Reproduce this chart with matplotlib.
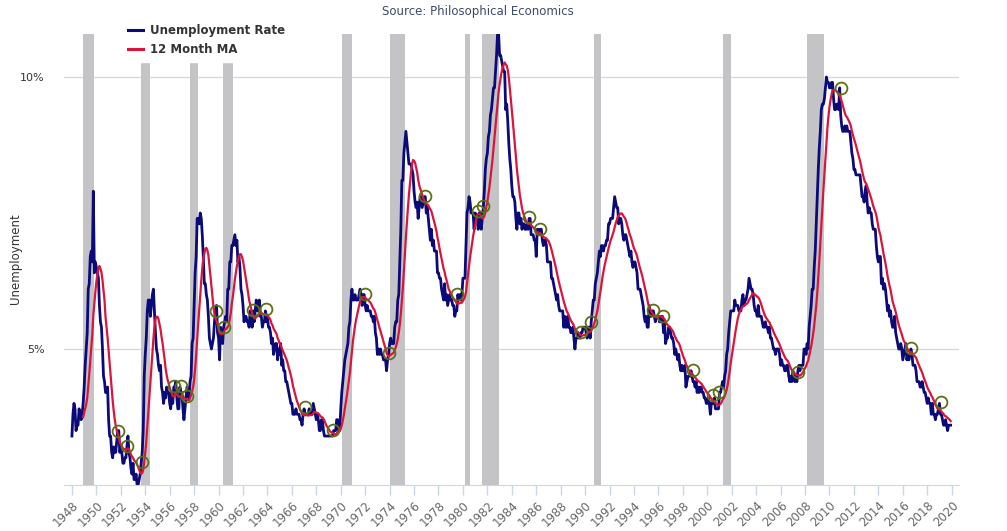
import numpy as np
import pandas as pd
import matplotlib
matplotlib.use('Agg')
import matplotlib.pyplot as plt
from matplotlib.lines import Line2D

# Monthly unemployment rate (%), Jan 1948 onwards
unrate_1940s = [
    3.4, 3.8, 4.0, 3.9, 3.5, 3.6, 3.6, 3.9, 3.8, 3.7, 3.8, 4.0,
    4.3, 4.7, 5.0, 5.3, 6.1, 6.2, 6.7, 6.8, 6.6, 7.9, 6.4, 6.6,
]
unrate_1950s = [
    6.5, 6.4, 6.3, 5.8, 5.5, 5.4, 5.0, 4.5, 4.4, 4.2, 4.2, 4.3,
    3.7, 3.4, 3.4, 3.1, 3.0, 3.2, 3.1, 3.1, 3.3, 3.5, 3.5, 3.1,
    3.2, 3.1, 2.9, 2.9, 3.0, 3.0, 3.2, 3.4, 3.1, 3.0, 2.8, 2.7,
    2.9, 2.6, 2.6, 2.7, 2.5, 2.5, 2.6, 2.7, 2.9, 3.1, 3.5, 4.5,
    4.9, 5.2, 5.7, 5.9, 5.9, 5.6, 5.8, 6.0, 6.1, 5.7, 5.3, 5.0,
    4.9, 4.7, 4.6, 4.7, 4.3, 4.2, 4.0, 4.2, 4.1, 4.3, 4.2, 4.2,
    4.0, 3.9, 4.2, 4.0, 4.3, 4.3, 4.4, 4.1, 3.9, 3.9, 4.3, 4.2,
    4.2, 3.9, 3.7, 3.9, 4.1, 4.3, 4.2, 4.1, 4.4, 4.5, 5.1, 5.2,
    5.8, 6.4, 6.7, 7.4, 7.4, 7.3, 7.5, 7.4, 7.1, 6.7, 6.2, 6.2,
    6.0, 5.9, 5.6, 5.2, 5.1, 5.0, 5.1, 5.2, 5.5, 5.7, 5.8, 5.3,
]
unrate_1960s = [
    5.2, 4.8, 5.4, 5.2, 5.1, 5.4, 5.5, 5.6, 5.5, 6.1, 6.1, 6.6,
    6.6, 6.9, 6.9, 7.0, 7.1, 6.9, 7.0, 6.6, 6.7, 6.5, 6.1, 6.0,
    5.8, 5.5, 5.6, 5.6, 5.5, 5.5, 5.4, 5.7, 5.6, 5.4, 5.7, 5.5,
    5.7, 5.9, 5.7, 5.7, 5.9, 5.6, 5.6, 5.4, 5.5, 5.5, 5.7, 5.5,
    5.6, 5.4, 5.4, 5.3, 5.1, 5.2, 4.9, 5.0, 5.1, 5.1, 4.8, 5.0,
    4.9, 5.1, 4.7, 4.8, 4.6, 4.6, 4.4, 4.4, 4.3, 4.2, 4.1, 4.0,
    4.0, 3.8, 3.8, 3.8, 3.9, 3.8, 3.8, 3.8, 3.7, 3.7, 3.6, 3.8,
    3.9, 3.8, 3.8, 3.8, 3.8, 3.9, 3.8, 3.8, 3.8, 4.0, 3.9, 3.8,
    3.7, 3.8, 3.7, 3.5, 3.5, 3.7, 3.7, 3.5, 3.4, 3.4, 3.4, 3.4,
    3.4, 3.4, 3.4, 3.4, 3.4, 3.5, 3.5, 3.5, 3.7, 3.7, 3.5, 3.5,
]
unrate_1970s = [
    3.9, 4.2, 4.4, 4.6, 4.8, 4.9, 5.0, 5.1, 5.4, 5.5, 5.9, 6.1,
    5.9, 5.9, 6.0, 5.9, 5.9, 5.9, 6.0, 6.1, 6.0, 5.8, 6.0, 6.0,
    5.8, 5.7, 5.8, 5.7, 5.7, 5.7, 5.6, 5.6, 5.5, 5.6, 5.3, 5.2,
    4.9, 5.0, 4.9, 5.0, 4.9, 4.9, 4.8, 4.8, 4.8, 4.6, 4.8, 4.9,
    5.1, 5.2, 5.1, 5.1, 5.1, 5.4, 5.5, 5.5, 5.9, 6.0, 6.6, 7.2,
    8.1, 8.1, 8.6, 8.8, 9.0, 8.8, 8.6, 8.4, 8.4, 8.4, 8.3, 8.2,
    7.9, 7.7, 7.6, 7.7, 7.4, 7.6, 7.8, 7.8, 7.6, 7.7, 7.8, 7.8,
    7.5, 7.6, 7.4, 7.2, 7.0, 7.2, 6.9, 7.0, 6.8, 6.8, 6.8, 6.4,
    6.4, 6.3, 6.3, 6.1, 6.0, 5.9, 6.2, 5.9, 6.0, 5.8, 5.9, 6.0,
    5.9, 5.9, 5.8, 5.8, 5.6, 5.7, 5.7, 6.0, 5.9, 6.0, 5.9, 6.0,
]
unrate_1980s = [
    6.3, 6.3, 6.3, 6.9, 7.5, 7.6, 7.8, 7.7, 7.5, 7.5, 7.5, 7.2,
    7.5, 7.4, 7.4, 7.2, 7.5, 7.5, 7.2, 7.4, 7.6, 7.9, 8.3, 8.5,
    8.6, 8.9, 9.0, 9.3, 9.4, 9.6, 9.8, 9.8, 10.1, 10.4, 10.8, 10.8,
    10.4, 10.4, 10.3, 10.2, 10.1, 10.1, 9.4, 9.5, 9.2, 8.8, 8.5, 8.3,
    8.0, 7.8, 7.8, 7.7, 7.4, 7.2, 7.5, 7.5, 7.3, 7.4, 7.2, 7.3,
    7.3, 7.2, 7.2, 7.3, 7.2, 7.4, 7.4, 7.1, 7.1, 7.1, 7.0, 7.0,
    6.7, 7.2, 7.2, 7.1, 7.2, 7.2, 7.0, 6.9, 7.0, 7.0, 6.9, 6.6,
    6.6, 6.6, 6.6, 6.3, 6.3, 6.2, 6.1, 6.0, 5.9, 6.0, 5.8, 5.7,
    5.7, 5.7, 5.7, 5.4, 5.6, 5.4, 5.4, 5.6, 5.4, 5.4, 5.3, 5.3,
    5.4, 5.2, 5.0, 5.2, 5.2, 5.3, 5.2, 5.2, 5.3, 5.3, 5.4, 5.4,
]
unrate_1990s = [
    5.4, 5.3, 5.2, 5.4, 5.4, 5.2, 5.5, 5.7, 5.9, 5.9, 6.2, 6.3,
    6.4, 6.6, 6.8, 6.7, 6.9, 6.9, 6.8, 6.9, 6.9, 7.0, 7.0, 7.3,
    7.3, 7.4, 7.4, 7.4, 7.6, 7.8, 7.7, 7.6, 7.6, 7.3, 7.4, 7.4,
    7.3, 7.1, 7.0, 7.1, 7.1, 7.0, 6.9, 6.8, 6.7, 6.8, 6.6, 6.5,
    6.6, 6.6, 6.5, 6.4, 6.1, 6.1, 6.1, 6.0, 5.9, 5.8, 5.6, 5.5,
    5.6, 5.4, 5.4, 5.8, 5.6, 5.6, 5.7, 5.7, 5.6, 5.5, 5.6, 5.6,
    5.6, 5.5, 5.5, 5.6, 5.6, 5.3, 5.5, 5.1, 5.2, 5.2, 5.4, 5.4,
    5.3, 5.2, 5.2, 5.1, 4.9, 5.0, 4.9, 4.8, 4.9, 4.7, 4.6, 4.7,
    4.6, 4.6, 4.7, 4.3, 4.4, 4.5, 4.5, 4.5, 4.6, 4.5, 4.4, 4.4,
    4.3, 4.4, 4.2, 4.3, 4.2, 4.3, 4.3, 4.2, 4.2, 4.1, 4.1, 4.0,
]
unrate_2000s = [
    4.0, 4.1, 4.0, 3.8, 4.0, 4.0, 4.0, 4.1, 3.9, 3.9, 3.9, 3.9,
    4.2, 4.2, 4.3, 4.4, 4.3, 4.5, 4.6, 4.9, 5.0, 5.3, 5.5, 5.7,
    5.7, 5.7, 5.7, 5.9, 5.8, 5.8, 5.8, 5.7, 5.7, 5.7, 5.9, 6.0,
    5.8, 5.9, 5.9, 6.0, 6.1, 6.3, 6.2, 6.1, 6.1, 6.0, 5.8, 5.7,
    5.7, 5.6, 5.8, 5.6, 5.6, 5.6, 5.5, 5.4, 5.4, 5.5, 5.4, 5.4,
    5.3, 5.4, 5.2, 5.2, 5.1, 5.0, 5.0, 4.9, 5.0, 5.0, 5.0, 4.9,
    4.7, 4.8, 4.7, 4.7, 4.6, 4.6, 4.7, 4.7, 4.5, 4.4, 4.5, 4.4,
    4.6, 4.5, 4.4, 4.5, 4.4, 4.6, 4.7, 4.6, 4.7, 4.7, 4.7, 5.0,
    5.0, 4.9, 5.1, 5.0, 5.4, 5.6, 5.8, 6.1, 6.1, 6.5, 6.8, 7.3,
    7.8, 8.3, 8.7, 9.0, 9.4, 9.5, 9.5, 9.6, 9.8, 10.0, 9.9, 9.9,
]
unrate_2010s = [
    9.8, 9.8, 9.9, 9.9, 9.6, 9.4, 9.4, 9.5, 9.5, 9.4, 9.8, 9.3,
    9.1, 9.0, 9.0, 9.1, 9.0, 9.1, 9.0, 9.0, 9.0, 8.8, 8.6, 8.5,
    8.3, 8.3, 8.2, 8.2, 8.2, 8.2, 8.2, 8.0, 7.8, 7.8, 7.7, 7.9,
    8.0, 7.7, 7.5, 7.6, 7.5, 7.5, 7.3, 7.2, 7.2, 7.2, 6.9, 6.7,
    6.6, 6.7, 6.7, 6.2, 6.3, 6.1, 6.2, 6.1, 5.9, 5.7, 5.8, 5.6,
    5.7, 5.5, 5.4, 5.4, 5.6, 5.3, 5.2, 5.1, 5.0, 5.0, 5.1, 5.0,
    4.8, 4.9, 5.0, 5.1, 4.8, 4.9, 4.8, 4.9, 5.0, 4.9, 4.7, 4.7,
    4.7, 4.6, 4.4, 4.4, 4.4, 4.3, 4.3, 4.4, 4.3, 4.2, 4.2, 4.1,
    4.0, 4.1, 4.0, 4.0, 3.8, 4.0, 3.8, 3.8, 3.7, 3.8, 3.8, 3.9,
    4.0, 3.8, 3.8, 3.7, 3.6, 3.6, 3.7, 3.6, 3.5, 3.6, 3.6, 3.6,
]

# Recession shading (decimal years)
rec_start = [1948.93, 1953.62, 1957.68, 1960.38, 1970.07, 1974.00, 1980.13, 1981.60, 1990.69, 2001.30, 2008.12]
rec_end = [1949.83, 1954.41, 1958.34, 1961.20, 1970.94, 1975.25, 1980.57, 1982.97, 1991.29, 2001.93, 2009.56]

# Signal circles (decimal year, value)
circle_x = [1951.79, 1952.47, 1953.70, 1956.37, 1956.90, 1957.44, 1959.78, 1960.44, 1962.79, 1963.88,
            1967.07, 1969.39, 1971.98, 1973.97, 1976.89, 1979.48, 1981.25, 1981.66, 1985.43, 1986.30,
            1989.63, 1990.45, 1995.52, 1996.34, 1998.79, 2000.48, 2000.97, 2007.43, 2010.93, 2016.71,
            2019.09]
circle_y = [3.50, 3.22, 2.92, 4.32, 4.32, 4.13, 5.70, 5.41, 5.72, 5.73,
            3.93, 3.51, 6.02, 4.93, 7.82, 6.02, 7.53, 7.62, 7.42, 7.20,
            5.32, 5.50, 5.72, 5.61, 4.61, 4.15, 4.21, 4.58, 9.80, 5.01,
            4.02]

year_ticks = list(range(1948, 2021, 2))

unrate = pd.Series(unrate_1940s + unrate_1950s + unrate_1960s + unrate_1970s +
                   unrate_1980s + unrate_1990s + unrate_2000s + unrate_2010s)
ma12 = unrate.rolling(12).mean()
t = 1948 + np.arange(len(unrate)) / 12.0

fig = plt.figure(figsize=(10.07, 5.31), dpi=100)
ax = fig.add_axes([64 / 1007, 1 - 485 / 531, (959 - 64) / 1007, (485 - 34) / 531])

for s, e in zip(rec_start, rec_end):
    ax.axvspan(s, e, color='#c4c4c6', lw=0, zorder=1)

ax.plot(t, unrate, color='#0a0a78', lw=2.0, zorder=3, solid_joinstyle='round')
ax.plot(t, ma12, color='#dc143c', lw=1.6, zorder=4)
ax.plot(circle_x, circle_y, ls='none', marker='o', ms=8.5, mfc='none',
        mec='#5d7016', mew=1.3, zorder=5)

ax.set_xlim(1947.35, 2020.6)
ax.set_ylim(2.5, 10.79)

ax.set_yticks([5, 10])
ax.set_yticklabels(['5%', '10%'])
ax.grid(axis='y', color='#d8d8d8', lw=1)
ax.set_axisbelow(True)
ax.tick_params(axis='y', length=0, pad=14, labelsize=8, labelcolor='#333333')

ax.set_xticks(year_ticks)
ax.set_xticklabels([str(y) for y in year_ticks], rotation=45, ha='right',
                   rotation_mode='anchor')
ax.tick_params(axis='x', length=7, width=1, color='#ccd6eb', labelsize=8.5,
               labelcolor='#666666', pad=3)

for side in ['top', 'right', 'left']:
    ax.spines[side].set_visible(False)
ax.spines['bottom'].set_color('#ccd6eb')

ax.set_ylabel('Unemployment', fontsize=8.5, color='#333333')
ax.yaxis.set_label_coords((22 - 64) / 895, (485 - 259) / 451)

fig.text(478 / 1007, 1 - 12 / 531, 'Source: Philosophical Economics', ha='center',
         va='center', fontsize=8.5, color='#3d4a6b')

handles = [Line2D([], [], color='#0a0a78', lw=2.2), Line2D([], [], color='#dc143c', lw=2.2)]
leg = fig.legend(handles, ['Unemployment Rate', '12 Month MA'], loc='upper left',
                 bbox_to_anchor=(116 / 1007, 1 - 12 / 531), frameon=True, fancybox=False,
                 handlelength=1.3, handletextpad=0.6, labelspacing=0.55, borderpad=0.5,
                 prop={'weight': 'bold', 'size': 8.5})
leg.get_frame().set_facecolor('white')
leg.get_frame().set_edgecolor('white')
leg.get_frame().set_alpha(1)
leg.set_zorder(10)
for txt in leg.get_texts():
    txt.set_color('#333333')

fig.savefig('out.png', dpi=100)
